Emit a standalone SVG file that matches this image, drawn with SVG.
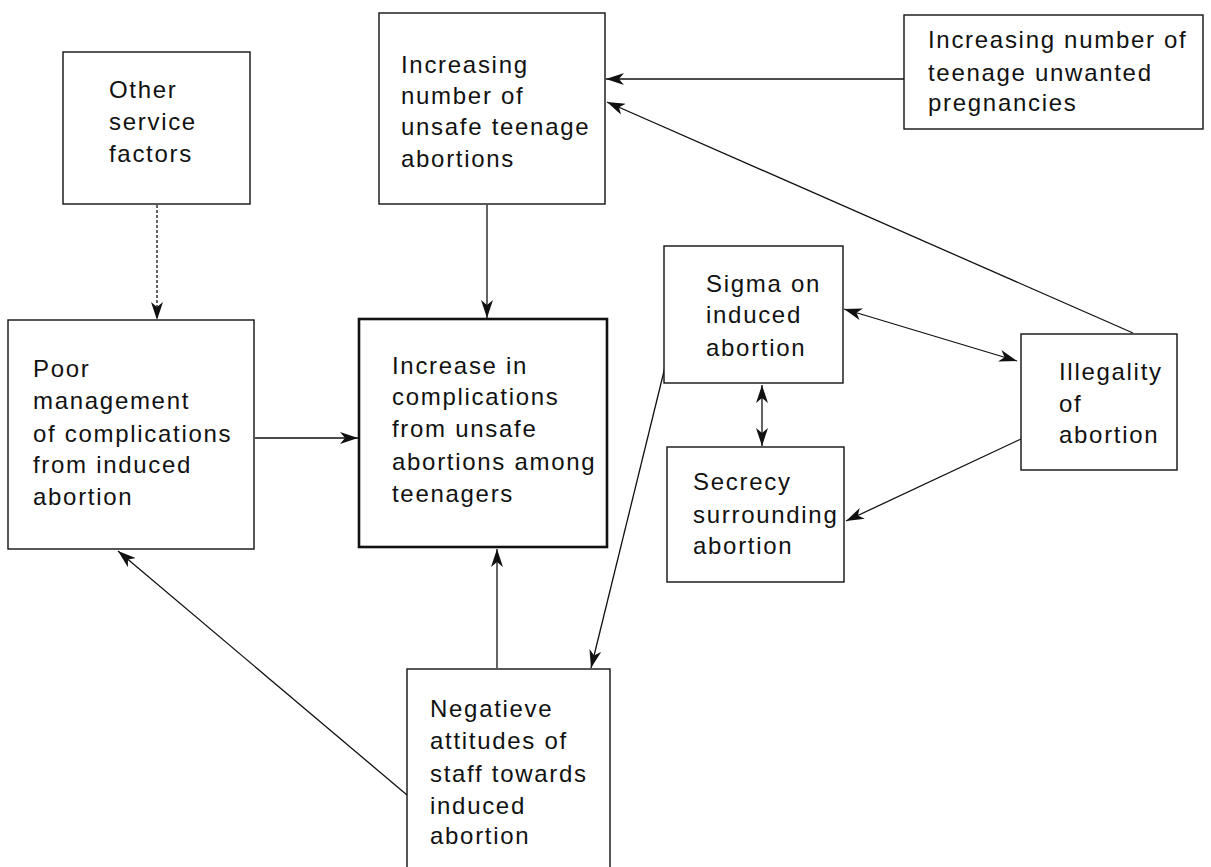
<svg xmlns="http://www.w3.org/2000/svg" width="1211" height="867" viewBox="0 0 1211 867">
  <style>
    .box { fill: #ffffff; stroke: #111111; stroke-width: 1.4; }
    .box-main { fill: #ffffff; stroke: #111111; stroke-width: 2.6; }
    .label { font-family: "Liberation Sans", Arial, sans-serif; font-size: 24px; letter-spacing: 1.7px; fill: #111111; }
    .link { fill: none; stroke: #111111; stroke-width: 1.3; }
    .dashed { stroke-dasharray: 3 2; }
  </style>
  <defs>
    <marker id="arrow" viewBox="0 0 18 12" refX="18" refY="6" markerWidth="18" markerHeight="12" markerUnits="userSpaceOnUse" orient="auto-start-reverse">
      <path d="M0,0 L18,6 L0,12 L5,6 Z" fill="#111111"/>
    </marker>
  </defs>

  <rect width="1211" height="867" fill="#ffffff"/>

  <!-- connectors -->
  <g id="connectors">
    <line class="link dashed" x1="157" y1="205" x2="157" y2="320" marker-end="url(#arrow)"/>
    <line class="link" x1="904" y1="79" x2="606" y2="79" marker-end="url(#arrow)"/>
    <line class="link" x1="1133" y1="333" x2="607" y2="102" marker-end="url(#arrow)"/>
    <line class="link" x1="487" y1="205" x2="487" y2="318" marker-end="url(#arrow)"/>
    <line class="link" x1="255" y1="438" x2="358" y2="438" marker-end="url(#arrow)"/>
    <line class="link" x1="497" y1="668" x2="497" y2="549" marker-end="url(#arrow)"/>
    <line class="link" x1="666" y1="363" x2="591" y2="668" marker-end="url(#arrow)"/>
    <line class="link" x1="407" y1="795" x2="118" y2="551" marker-end="url(#arrow)"/>
    <line class="link" x1="844" y1="309" x2="1017" y2="361" marker-start="url(#arrow)" marker-end="url(#arrow)"/>
    <line class="link" x1="762" y1="385" x2="762" y2="446" marker-start="url(#arrow)" marker-end="url(#arrow)"/>
    <line class="link" x1="1021" y1="439" x2="846" y2="521" marker-end="url(#arrow)"/>
  </g>

  <!-- nodes -->
  <g id="other-service-factors">
    <rect class="box" x="63" y="52" width="187" height="152"/>
    <text class="label"><tspan x="109" y="98">Other</tspan><tspan x="109" y="130">service</tspan><tspan x="109" y="162">factors</tspan></text>
  </g>

  <g id="unsafe-teenage-abortions">
    <rect class="box" x="379" y="13" width="226" height="191"/>
    <text class="label"><tspan x="401" y="73">Increasing</tspan><tspan x="401" y="104">number of</tspan><tspan x="401" y="135">unsafe teenage</tspan><tspan x="401" y="167">abortions</tspan></text>
  </g>

  <g id="unwanted-pregnancies">
    <rect class="box" x="904" y="15" width="299" height="114"/>
    <text class="label"><tspan x="928" y="48">Increasing number of</tspan><tspan x="928" y="81">teenage unwanted</tspan><tspan x="928" y="111">pregnancies</tspan></text>
  </g>

  <g id="poor-management">
    <rect class="box" x="8" y="320" width="246" height="229"/>
    <text class="label"><tspan x="33" y="377">Poor</tspan><tspan x="33" y="409">management</tspan><tspan x="33" y="442">of complications</tspan><tspan x="33" y="473">from induced</tspan><tspan x="33" y="505">abortion</tspan></text>
  </g>

  <g id="increase-in-complications">
    <rect class="box-main" x="359" y="319" width="248" height="228"/>
    <text class="label"><tspan x="392" y="374">Increase in</tspan><tspan x="392" y="405">complications</tspan><tspan x="392" y="437">from unsafe</tspan><tspan x="392" y="470">abortions among</tspan><tspan x="392" y="502">teenagers</tspan></text>
  </g>

  <g id="stigma">
    <rect class="box" x="664" y="246" width="179" height="137"/>
    <text class="label"><tspan x="706" y="292">Sigma on</tspan><tspan x="706" y="323">induced</tspan><tspan x="706" y="356">abortion</tspan></text>
  </g>

  <g id="secrecy">
    <rect class="box" x="667" y="447" width="177" height="135"/>
    <text class="label"><tspan x="693" y="490">Secrecy</tspan><tspan x="693" y="523">surrounding</tspan><tspan x="693" y="554">abortion</tspan></text>
  </g>

  <g id="illegality">
    <rect class="box" x="1021" y="334" width="156" height="136"/>
    <text class="label"><tspan x="1059" y="380">Illegality</tspan><tspan x="1059" y="412">of</tspan><tspan x="1059" y="443">abortion</tspan></text>
  </g>

  <g id="negative-attitudes">
    <rect class="box" x="407" y="669" width="203" height="220"/>
    <text class="label"><tspan x="430" y="717">Negatieve</tspan><tspan x="430" y="749">attitudes of</tspan><tspan x="430" y="782">staff towards</tspan><tspan x="430" y="814">induced</tspan><tspan x="430" y="844">abortion</tspan></text>
  </g>
</svg>
